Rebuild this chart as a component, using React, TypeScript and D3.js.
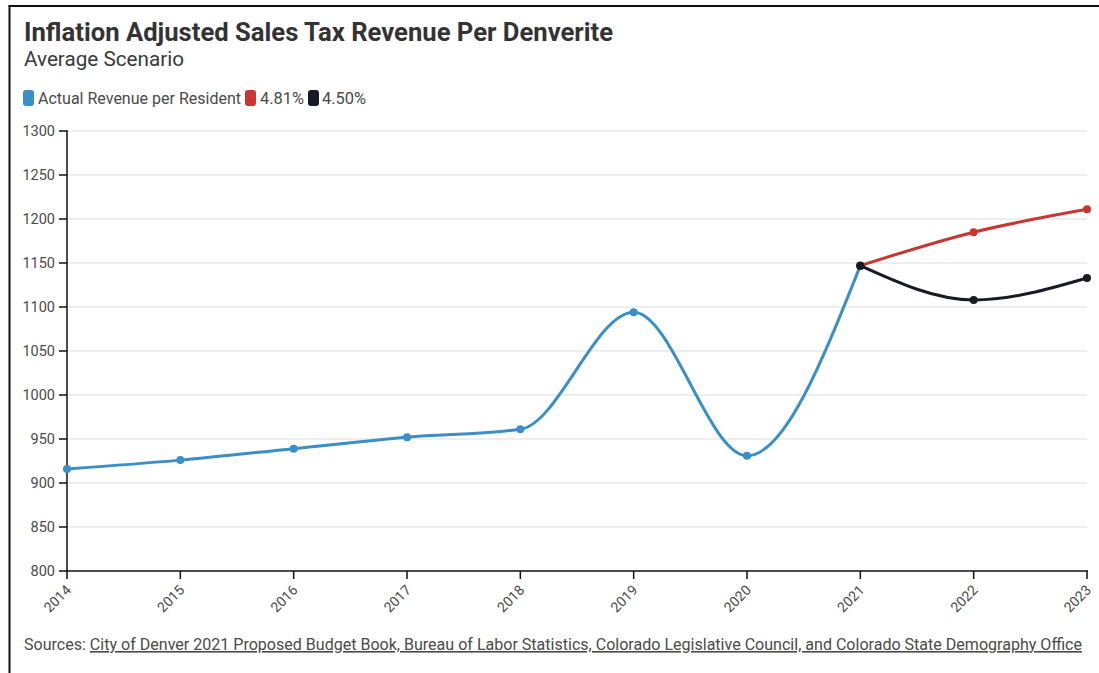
import React from "react";
import * as d3 from "d3";

const years = [2014, 2015, 2016, 2017, 2018, 2019, 2020, 2021, 2022, 2023];
const actualYears = [2014, 2015, 2016, 2017, 2018, 2019, 2020, 2021];
const actualValues = [916, 926, 939, 952, 961, 1094, 931, 1147];
const scenarioYears = [2021, 2022, 2023];
const highValues = [1147, 1185, 1211];
const lowValues = [1147, 1108, 1133];
const yTicks = [800, 850, 900, 950, 1000, 1050, 1100, 1150, 1200, 1250, 1300];

const BLUE = "#3a8fc8";
const RED = "#c8372f";
const BLACK = "#151c25";
const FONT = "Roboto, 'Noto Sans', sans-serif";

export default function App() {
  const W = 1099, H = 673;
  const x = d3.scaleLinear().domain([2014, 2023]).range([67, 1087]);
  const y = d3.scaleLinear().domain([800, 1300]).range([571, 131]);
  const line = d3
    .line<[number, number]>()
    .x((d) => x(d[0]))
    .y((d) => y(d[1]))
    .curve(d3.curveMonotoneX);

  const series = [
    { color: BLUE, xs: actualYears, vs: actualValues },
    { color: RED, xs: scenarioYears, vs: highValues },
    { color: BLACK, xs: scenarioYears, vs: lowValues },
  ];

  const legend = [
    { label: "Actual Revenue per Resident", color: BLUE, x: 23, tx: 38, w: 203 },
    { label: "4.81%", color: RED, x: 245, tx: 260, w: 44 },
    { label: "4.50%", color: BLACK, x: 308, tx: 322, w: 44 },
  ];

  return (
    <div style={{ position: "absolute", left: 0, top: 0 }}>
      <svg width={W} height={H} style={{ display: "block", fontFamily: FONT }}>
        <rect width={W} height={H} fill="#fff" />
        <line x1={9.5} x2={9.5} y1={5} y2={H} stroke="#111" strokeWidth={2} />
        <line x1={8.5} x2={W} y1={6} y2={6} stroke="#111" strokeWidth={2} />

        <text x={24} y={41} fontSize={25.5} fontWeight={700} fill="#333" textLength={589} lengthAdjust="spacingAndGlyphs">
          Inflation Adjusted Sales Tax Revenue Per Denverite
        </text>
        <text x={24} y={66} fontSize={20.5} fontWeight={400} fill="#3a3a3a" textLength={160} lengthAdjust="spacingAndGlyphs">
          Average Scenario
        </text>

        {legend.map((l) => (
          <g key={l.label}>
            <rect x={l.x} y={90} width={11} height={16} rx={3} fill={l.color} />
            <text x={l.tx} y={104} fontSize={16} fill="#4a4a4a" textLength={l.w} lengthAdjust="spacingAndGlyphs">
              {l.label}
            </text>
          </g>
        ))}

        {yTicks.map((t) => (
          <g key={t}>
            {t !== 800 && (
              <line x1={67} x2={1087} y1={y(t)} y2={y(t)} stroke="#e8e8e8" strokeWidth={1.5} />
            )}
            <line x1={59} x2={67} y1={y(t)} y2={y(t)} stroke="#111" strokeWidth={1.5} />
            <text x={55} y={y(t)} dy="0.35em" fontSize={14.5} textAnchor="end" fill="#4a4a4a">
              {t}
            </text>
          </g>
        ))}
        <line x1={67} x2={67} y1={130} y2={572} stroke="#111" strokeWidth={1.5} />
        <line x1={66} x2={1088} y1={571} y2={571} stroke="#111" strokeWidth={1.5} />
        {years.map((yr) => (
          <g key={yr}>
            <line x1={x(yr)} x2={x(yr)} y1={571} y2={579} stroke="#111" strokeWidth={1.5} />
            <text
              transform={`translate(${x(yr) + 5},${591}) rotate(-45)`}
              fontSize={14}
              textAnchor="end"
              fill="#4a4a4a"
            >
              {yr}
            </text>
          </g>
        ))}

        {series.map((s, i) => {
          const pts = s.xs.map((xx, j) => [xx, s.vs[j]] as [number, number]);
          return (
            <g key={i}>
              <path d={line(pts) || ""} fill="none" stroke={s.color} strokeWidth={3} />
              {pts.map((p, j) => (
                <circle key={j} cx={x(p[0])} cy={y(p[1])} r={4} fill={s.color} />
              ))}
            </g>
          );
        })}
        <circle cx={x(2021)} cy={y(1147)} r={4} fill={BLACK} />

        <text x={24} y={650} fontSize={16} fill="#4a4a4a" textLength={1058} lengthAdjust="spacingAndGlyphs">
          Sources:{" "}
          <tspan textDecoration="underline">
            City of Denver 2021 Proposed Budget Book, Bureau of Labor Statistics, Colorado Legislative Council, and Colorado State Demography Office
          </tspan>
        </text>
      </svg>
    </div>
  );
}
